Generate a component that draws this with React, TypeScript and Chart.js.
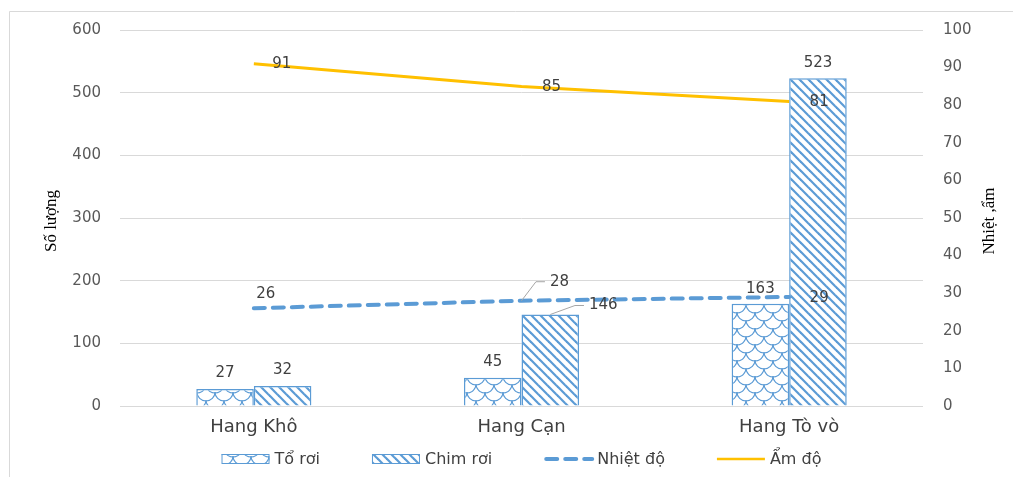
import React, { useEffect, useRef } from "react";
import { Chart, registerables } from "chart.js";

Chart.register(...registerables);

const categories = ["Hang Khô", "Hang Cạn", "Hang Tò vò"];
const toRoi = [27, 45, 163];
const chimRoi = [32, 146, 523];
const nhietDo = [26, 28, 29];
const amDo = [91, 85, 81];
const leftAxisMax = 600;
const leftAxisStep = 100;
const rightAxisMax = 100;
const rightAxisStep = 10;
const leftTitle = "Số lượng";
const rightTitle = "Nhiệt ,ẩm";
const seriesNames = ["Tổ rơi", "Chim rơi", "Nhiệt độ", "Ẩm độ"];

const BLUE = "#5B9BD5";
const GOLD = "#FFC000";
const FONT = "DejaVu Sans";

function makeHatch(): CanvasPattern | string {
  const s = 9;
  const c = document.createElement("canvas");
  c.width = s;
  c.height = s;
  const g = c.getContext("2d")!;
  g.fillStyle = "#fff";
  g.fillRect(0, 0, s, s);
  g.strokeStyle = BLUE;
  g.lineWidth = 2.2;
  for (let k = -1; k <= 1; k++) {
    g.beginPath();
    g.moveTo(k * s - 1, -1);
    g.lineTo(k * s + s + 1, s + 1);
    g.stroke();
  }
  return g.createPattern(c, "repeat") || "#fff";
}

function makeScales(): CanvasPattern | string {
  const w = 18;
  const h = 16;
  const c = document.createElement("canvas");
  c.width = w;
  c.height = h;
  const g = c.getContext("2d")!;
  g.fillStyle = "#fff";
  g.fillRect(0, 0, w, h);
  g.strokeStyle = BLUE;
  g.lineWidth = 1.1;
  const r = 9;
  const arcs: [number, number][] = [
    [0, 0],
    [18, 0],
    [9, 8],
    [0, 16],
    [18, 16],
    [9, -8],
    [0, -16],
    [18, -16],
  ];
  arcs.forEach(([cx, cy]) => {
    g.beginPath();
    g.arc(cx, cy, r, 0, Math.PI);
    g.stroke();
  });
  return g.createPattern(c, "repeat") || "#fff";
}

export default function App() {
  const ref = useRef<HTMLCanvasElement>(null);

  useEffect(() => {
    const canvas = ref.current!;
    const scalePat = makeScales();
    const hatchPat = makeHatch();

    const labelPlugin = {
      id: "valueLabels",
      afterDatasetsDraw(chart: any) {
        const ctx = chart.ctx;
        ctx.save();
        ctx.font = `15px "${FONT}"`;
        ctx.fillStyle = "#404040";
        ctx.textBaseline = "middle";
        chart.data.datasets.forEach((ds: any, i: number) => {
          const meta = chart.getDatasetMeta(i);
          const cfg = ds.labelCfg || {};
          meta.data.forEach((el: any, j: number) => {
            const v = ds.data[j];
            const [dx, dy] = (cfg.offsets && cfg.offsets[j]) || [0, -16];
            const px = el.x + dx;
            const py = el.y + dy;
            const txt = String(v);
            const w = ctx.measureText(txt).width;
            if (cfg.leader && cfg.leader[j]) {
              const left = px - w / 2;
              ctx.save();
              ctx.strokeStyle = "#A6A6A6";
              ctx.lineWidth = 1;
              ctx.beginPath();
              ctx.moveTo(el.x, el.y);
              ctx.lineTo(left - 14, py);
              ctx.lineTo(left - 5, py);
              ctx.stroke();
              ctx.restore();
            }
            ctx.textAlign = "center";
            ctx.fillText(txt, px, py);
          });
        });
        ctx.restore();
      },
    };

    const decorPlugin = {
      id: "decor",
      beforeDraw(chart: any) {
        const ctx = chart.ctx;
        ctx.save();
        ctx.fillStyle = "#fff";
        ctx.fillRect(0, 0, chart.width, chart.height);
        ctx.strokeStyle = "#D9D9D9";
        ctx.lineWidth = 1;
        ctx.beginPath();
        ctx.moveTo(1.5, chart.height);
        ctx.lineTo(1.5, 3.5);
        ctx.lineTo(chart.width, 3.5);
        ctx.stroke();
        ctx.restore();
      },
      afterDraw(chart: any) {
        const ctx = chart.ctx;
        const area = chart.chartArea;
        ctx.save();
        // axis titles
        ctx.fillStyle = "#000";
        ctx.font = `17px "Liberation Serif"`;
        ctx.textAlign = "center";
        ctx.textBaseline = "middle";
        const cy = (area.top + area.bottom) / 2 + 3;
        ctx.save();
        ctx.translate(44, cy);
        ctx.rotate(-Math.PI / 2);
        ctx.fillText(leftTitle, 0, 0);
        ctx.restore();
        ctx.save();
        ctx.translate(982, cy);
        ctx.rotate(-Math.PI / 2);
        ctx.fillText(rightTitle, 0, 0);
        ctx.restore();

        // legend
        ctx.font = `16px "${FONT}"`;
        ctx.textAlign = "left";
        const symW = 48;
        const symGap = 5;
        const itemGap = 52;
        const widths = seriesNames.map((n) => ctx.measureText(n).width);
        const total =
          widths.reduce((a, b) => a + b, 0) +
          seriesNames.length * (symW + symGap) +
          (seriesNames.length - 1) * itemGap;
        let x = (area.left + area.right) / 2 - total / 2;
        const y = 451;
        seriesNames.forEach((name, i) => {
          if (i < 2) {
            ctx.fillStyle = i === 0 ? scalePat : hatchPat;
            ctx.fillRect(x, y - 5, symW, 10);
            ctx.strokeStyle = BLUE;
            ctx.lineWidth = 1;
            ctx.strokeRect(x + 0.5, y - 4.5, symW - 1, 9);
          } else if (i === 2) {
            ctx.strokeStyle = BLUE;
            ctx.lineWidth = 4;
            ctx.lineCap = "round";
            ctx.setLineDash([11, 8]);
            ctx.beginPath();
            ctx.moveTo(x + 2, y);
            ctx.lineTo(x + symW, y);
            ctx.stroke();
            ctx.setLineDash([]);
          } else {
            ctx.strokeStyle = GOLD;
            ctx.lineWidth = 2.5;
            ctx.lineCap = "butt";
            ctx.beginPath();
            ctx.moveTo(x, y);
            ctx.lineTo(x + symW, y);
            ctx.stroke();
          }
          ctx.fillStyle = "#404040";
          ctx.fillText(name, x + symW + symGap, y + 1);
          x += symW + symGap + widths[i] + itemGap;
        });
        ctx.restore();
      },
    };

    const chart = new Chart(canvas, {
      type: "bar",
      data: {
        labels: categories,
        datasets: [
          {
            type: "line",
            label: seriesNames[2],
            data: nhietDo,
            yAxisID: "y1",
            borderColor: BLUE,
            borderWidth: 4,
            borderDash: [11, 8],
            borderCapStyle: "round",
            pointRadius: 0,
            fill: false,
            order: 0,
            labelCfg: {
              offsets: [
                [12, -14],
                [38, -19],
                [30, 1.5],
              ],
              leader: [false, true, false],
            },
          } as any,
          {
            type: "line",
            label: seriesNames[3],
            data: amDo,
            yAxisID: "y1",
            borderColor: GOLD,
            borderWidth: 3,
            pointRadius: 0,
            fill: false,
            order: 0,
            labelCfg: {
              offsets: [
                [28, 0],
                [30, 0.5],
                [30, 0.5],
              ],
            },
          } as any,
          {
            type: "bar",
            label: seriesNames[0],
            data: toRoi,
            yAxisID: "y",
            backgroundColor: scalePat,
            borderColor: BLUE,
            borderWidth: 1.5,
            categoryPercentage: 0.43,
            barPercentage: 1,
            order: 1,
            labelCfg: {
              offsets: [
                [0, -16],
                [0, -16],
                [0, -15],
              ],
            },
          } as any,
          {
            type: "bar",
            label: seriesNames[1],
            data: chimRoi,
            yAxisID: "y",
            backgroundColor: hatchPat,
            borderColor: BLUE,
            borderWidth: 1.5,
            categoryPercentage: 0.43,
            barPercentage: 1,
            order: 1,
            labelCfg: {
              offsets: [
                [0, -15.5],
                [53, -9],
                [0, -15.5],
              ],
              leader: [false, true, false],
            },
          } as any,
        ],
      },
      options: {
        animation: false,
        responsive: false,
        maintainAspectRatio: false,
        layout: { padding: { top: 22, bottom: 31, left: 0, right: 0 } },
        plugins: {
          legend: { display: false },
          tooltip: { enabled: false },
          title: { display: false },
        },
        scales: {
          x: {
            grid: { display: false },
            border: { display: false },
            ticks: {
              color: "#404040",
              padding: 3,
              font: { family: FONT, size: 18 },
            },
            afterFit: (s: any) => {
              s.height = 40;
              s.paddingLeft = 0;
              s.paddingRight = 0;
            },
          },
          y: {
            position: "left",
            min: 0,
            max: leftAxisMax,
            ticks: {
              stepSize: leftAxisStep,
              padding: 19,
              color: "#595959",
              font: { family: FONT, size: 15 },
            },
            grid: { color: "#D9D9D9", lineWidth: 1, drawTicks: false },
            border: { display: false },
            afterFit: (s: any) => {
              s.width = 112;
              s.paddingTop = 0;
              s.paddingBottom = 0;
            },
          },
          y1: {
            position: "right",
            min: 0,
            max: rightAxisMax,
            ticks: {
              stepSize: rightAxisStep,
              padding: 20,
              color: "#595959",
              font: { family: FONT, size: 15 },
            },
            grid: { display: false, drawTicks: false },
            border: { display: false },
            afterFit: (s: any) => {
              s.width = 98;
              s.paddingTop = 0;
              s.paddingBottom = 0;
            },
          },
        },
      } as any,
      plugins: [labelPlugin, decorPlugin],
    });

    return () => chart.destroy();
  }, []);

  return (
    <canvas
      ref={ref}
      width={1013}
      height={469}
      style={{ display: "block", width: 1013, height: 469 }}
    />
  );
}
